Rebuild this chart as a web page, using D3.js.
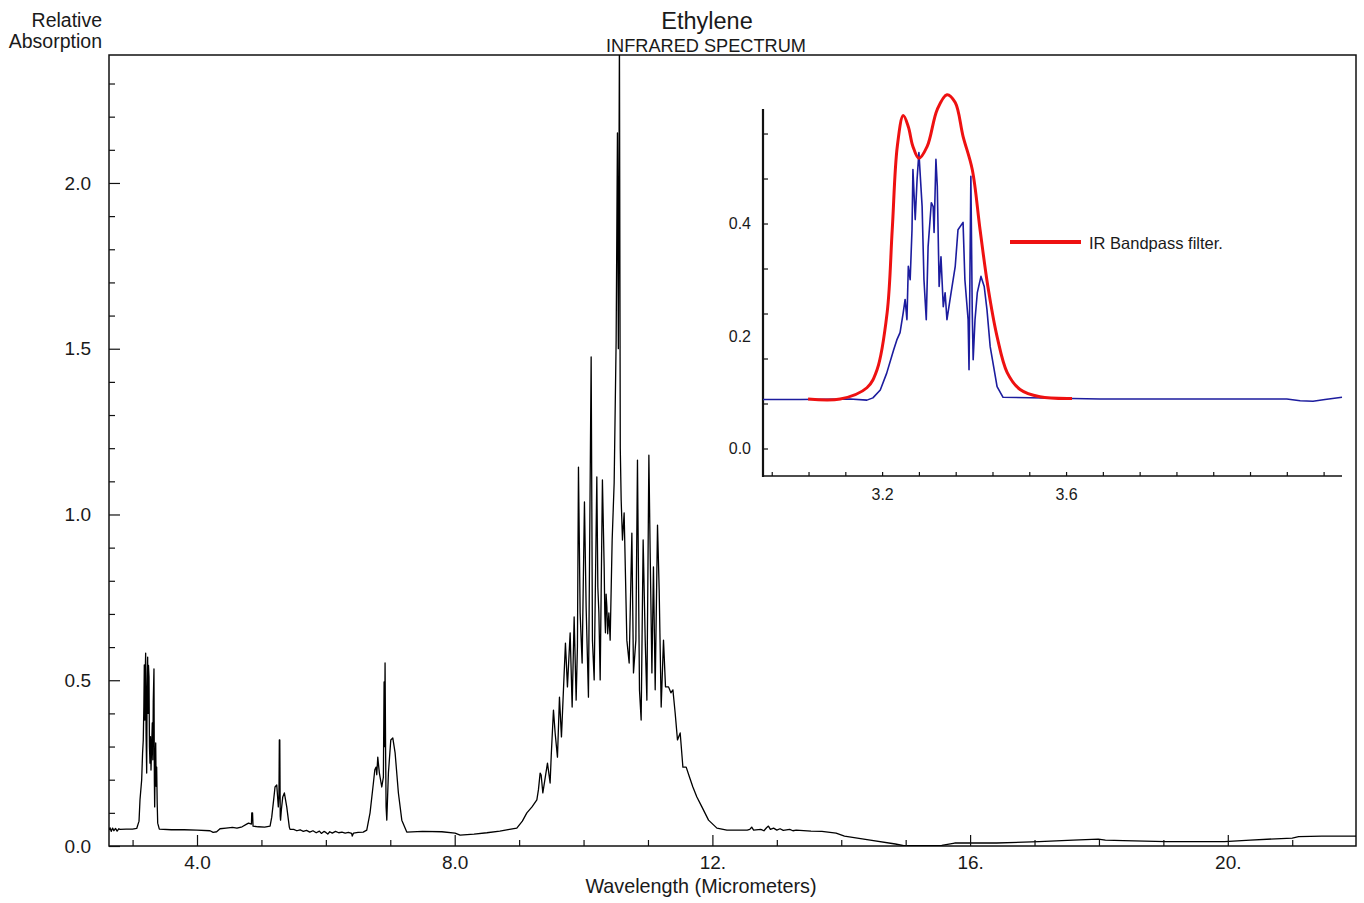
<!DOCTYPE html>
<html><head><meta charset="utf-8">
<script src="https://cdn.jsdelivr.net/npm/d3@7"></script>
<style>
body{margin:0;background:#fff}
text{font-family:"Liberation Sans",Arial,sans-serif;fill:#1a1a1a}
</style>
</head><body>
<svg id="c" width="1364" height="903"></svg>
<script>
// ---------- DATA ----------
// Main ethylene IR spectrum: [wavelength µm, relative absorption]
const spectrum = [
[2.634,0.048],[2.65,0.055],[2.668,0.044],[2.69,0.054],[2.71,0.046],[2.735,0.053],[2.76,0.045],[2.785,0.052],[2.804,0.050],[2.9,0.051],[3.0,0.051],[3.064,0.053],
[3.10,0.075],[3.115,0.139],[3.141,0.199],[3.155,0.280],[3.166,0.320],[3.175,0.420],[3.182,0.546],[3.190,0.380],[3.196,0.520],[3.203,0.582],[3.210,0.330],[3.219,0.220],[3.226,0.480],[3.234,0.570],[3.240,0.400],[3.247,0.545],[3.255,0.510],[3.262,0.300],[3.270,0.250],[3.278,0.330],[3.286,0.229],[3.296,0.300],[3.306,0.371],[3.314,0.260],[3.321,0.434],[3.332,0.534],[3.338,0.200],[3.343,0.118],[3.350,0.250],[3.359,0.311],[3.366,0.180],[3.374,0.238],[3.382,0.130],[3.390,0.069],[3.415,0.051],
[3.6,0.049],[3.8,0.049],[4.0,0.048],[4.202,0.046],[4.25,0.041],[4.305,0.043],[4.357,0.052],[4.45,0.054],[4.55,0.056],[4.62,0.054],[4.70,0.058],[4.771,0.066],[4.80,0.069],[4.845,0.066],[4.850,0.100],[4.862,0.100],[4.870,0.060],[4.95,0.058],[5.05,0.057],[5.134,0.060],
[5.160,0.087],[5.190,0.140],[5.211,0.178],[5.238,0.184],[5.262,0.118],[5.272,0.150],[5.278,0.320],[5.285,0.320],[5.292,0.090],[5.297,0.078],[5.31,0.110],[5.331,0.148],[5.356,0.160],[5.393,0.118],[5.433,0.057],[5.444,0.050],
[5.50,0.050],[5.55,0.046],[5.60,0.049],[5.65,0.044],[5.70,0.047],[5.75,0.042],[5.80,0.046],[5.85,0.040],[5.90,0.045],[5.93,0.038],[5.97,0.044],[6.00,0.041],[6.03,0.036],[6.06,0.043],[6.10,0.039],[6.15,0.044],[6.20,0.040],[6.25,0.042],[6.30,0.039],[6.35,0.041],[6.40,0.038],[6.41,0.030],[6.43,0.039],[6.50,0.041],[6.58,0.042],
[6.635,0.048],[6.686,0.100],[6.738,0.190],[6.760,0.230],[6.780,0.238],[6.790,0.215],[6.806,0.268],[6.820,0.240],[6.831,0.220],[6.868,0.178],[6.893,0.208],[6.904,0.495],[6.912,0.300],[6.919,0.552],[6.927,0.300],[6.935,0.118],[6.946,0.078],[6.971,0.220],[7.008,0.320],[7.039,0.326],[7.075,0.281],[7.126,0.160],[7.179,0.078],[7.256,0.042],[7.5,0.044],[7.8,0.043],[8.006,0.039],
[8.084,0.033],[8.3,0.036],[8.5,0.040],[8.7,0.045],[8.85,0.050],[8.964,0.054],[9.05,0.075],[9.12,0.100],[9.2,0.118],[9.275,0.139],[9.300,0.170],[9.326,0.220],[9.342,0.214],[9.368,0.160],[9.40,0.200],[9.440,0.250],[9.481,0.190],[9.500,0.280],[9.533,0.410],[9.559,0.341],[9.595,0.268],[9.626,0.449],[9.657,0.329],[9.690,0.480],[9.719,0.612],[9.750,0.480],[9.792,0.643],[9.823,0.419],[9.854,0.691],[9.885,0.440],[9.905,0.600],[9.921,1.143],[9.947,0.703],[9.978,0.552],[10.014,1.038],[10.040,0.721],[10.076,0.449],[10.118,1.475],[10.138,0.621],[10.165,0.501],[10.206,1.113],[10.222,0.780],[10.238,0.703],[10.258,0.501],[10.293,1.104],[10.320,0.842],[10.330,0.700],[10.340,0.643],[10.350,0.760],[10.362,0.721],[10.375,0.640],[10.393,0.703],[10.413,0.621],[10.444,0.923],[10.475,1.095],[10.506,1.526],[10.526,2.151],[10.540,1.500],[10.557,2.450],[10.570,1.200],[10.584,1.044],[10.604,0.923],[10.630,1.005],[10.672,0.621],[10.708,0.552],[10.750,0.944],[10.775,0.522],[10.812,0.621],[10.837,1.164],[10.868,0.471],[10.894,0.380],[10.925,0.923],[10.957,0.621],[10.983,0.440],[11.014,1.179],[11.034,0.884],[11.061,0.522],[11.085,0.842],[11.112,0.471],[11.148,0.968],[11.174,0.772],[11.205,0.419],[11.241,0.621],[11.272,0.480],[11.319,0.480],[11.356,0.462],[11.387,0.471],[11.422,0.401],[11.458,0.320],[11.500,0.341],[11.542,0.238],[11.593,0.238],[11.644,0.208],[11.697,0.178],[11.759,0.148],[11.837,0.118],[11.940,0.078],[12.070,0.054],[12.225,0.048],
[12.54,0.048],[12.58,0.050],[12.61,0.057],[12.64,0.048],[12.75,0.050],[12.80,0.046],[12.84,0.055],[12.87,0.060],[12.90,0.050],[12.95,0.054],[13.0,0.048],[13.05,0.052],[13.1,0.047],[13.2,0.050],[13.25,0.046],[13.3,0.048],[13.53,0.045],[13.7,0.044],[13.92,0.039],[14.05,0.030],[14.45,0.018],[14.84,0.006],[14.97,0.001],[15.56,0.002],[15.76,0.009],[16.41,0.009],[17.07,0.013],[17.6,0.018],[17.99,0.021],[18.1,0.018],[18.38,0.016],[19.04,0.013],[19.95,0.013],[20.35,0.018],[21.0,0.024],[21.1,0.028],[21.46,0.030],[21.99,0.030]
];

// Inset: measured C-H band (blue)
const insetBand = [
[2.941,0.087],[3.022,0.087],[3.130,0.088],[3.167,0.086],[3.180,0.090],[3.196,0.104],[3.210,0.134],[3.225,0.175],[3.232,0.193],[3.239,0.206],[3.246,0.242],[3.250,0.265],[3.254,0.229],[3.257,0.324],[3.261,0.300],[3.265,0.389],[3.267,0.496],[3.272,0.407],[3.276,0.478],[3.280,0.526],[3.287,0.430],[3.291,0.300],[3.296,0.229],[3.300,0.359],[3.307,0.437],[3.311,0.430],[3.313,0.384],[3.317,0.514],[3.320,0.466],[3.324,0.288],[3.328,0.341],[3.333,0.252],[3.337,0.277],[3.341,0.229],[3.350,0.277],[3.359,0.324],[3.365,0.389],[3.376,0.402],[3.380,0.300],[3.387,0.229],[3.389,0.140],[3.393,0.484],[3.396,0.242],[3.398,0.158],[3.402,0.229],[3.407,0.277],[3.415,0.306],[3.422,0.288],[3.428,0.247],[3.435,0.181],[3.450,0.110],[3.463,0.091],[3.674,0.088],[3.891,0.088],[4.080,0.088],[4.109,0.085],[4.137,0.084],[4.163,0.087],[4.200,0.091]
];

// Inset: IR bandpass filter curve (red)
const bandpassFilter = [
[3.039,0.088],[3.109,0.088],[3.167,0.108],[3.189,0.140],[3.211,0.242],[3.222,0.389],[3.233,0.537],[3.246,0.592],[3.257,0.572],[3.267,0.537],[3.280,0.516],[3.298,0.537],[3.320,0.603],[3.341,0.629],[3.359,0.615],[3.376,0.555],[3.396,0.496],[3.413,0.389],[3.430,0.288],[3.450,0.199],[3.472,0.135],[3.500,0.105],[3.543,0.092],[3.613,0.089]
];

// Tick values / labels
const xMajorTicks = [4, 8, 12, 16, 20];
const xMajorLabels = ["4.0", "8.0", "12.", "16.", "20."];
const xMinorTicks = [3,5,6,7,9,10,11,13,14,15,17,18,19,21];
const yMajorTicks = [0, 0.5, 1.0, 1.5, 2.0];
const yMajorLabels = ["0.0", "0.5", "1.0", "1.5", "2.0"];
const yMinorTicks = [0.1,0.2,0.3,0.4,0.6,0.7,0.8,0.9,1.1,1.2,1.3,1.4,1.6,1.7,1.8,1.9,2.1,2.2,2.3];
const insetXTicks = [2.96,3.04,3.12,3.2,3.28,3.36,3.44,3.52,3.6,3.68,3.76,3.84,3.92,4.0,4.08,4.16];
const insetXLabelTicks = [3.2, 3.6];
const insetXLabels = ["3.2", "3.6"];
const insetYTicks = [0,0.08,0.16,0.24,0.32,0.4,0.48,0.56];
const insetYLabelTicks = [0, 0.2, 0.4];
const insetYLabels = ["0.0", "0.2", "0.4"];
const legendLabel = "IR Bandpass filter.";

// ---------- CHART ----------
const svg = d3.select("#c");
const L = 109, R = 1356, T = 55, B = 846;
const x = d3.scaleLinear().domain([2.634, 21.99]).range([L, R]);
const y = d3.scaleLinear().domain([0, 2.386]).range([B, T]);

svg.append("clipPath").attr("id","clip").append("rect")
  .attr("x", L).attr("y", T).attr("width", R-L).attr("height", B-T);

// frame
svg.append("rect").attr("x", L).attr("y", T).attr("width", R-L).attr("height", B-T)
  .attr("fill","none").attr("stroke","#111").attr("stroke-width",1.5);

// spectrum
svg.append("path").datum(spectrum)
  .attr("clip-path","url(#clip)")
  .attr("fill","none").attr("stroke","#000").attr("stroke-width",1.3)
  .attr("stroke-linejoin","round")
  .attr("d", d3.line().x(d=>x(d[0])).y(d=>y(d[1])));

function styleAxis(g){
  g.select(".domain").remove();
  g.selectAll(".tick line").attr("stroke","#111").attr("stroke-width",1.2);
  g.selectAll(".tick text").style("font-family",'"Liberation Sans",Arial,sans-serif').attr("fill","#1a1a1a");
}

// x axis
svg.append("g").attr("transform",`translate(0,${B})`)
  .call(d3.axisBottom(x).tickValues(xMinorTicks).tickSize(-6).tickFormat(""))
  .call(styleAxis);
svg.append("g").attr("transform",`translate(0,${B})`)
  .call(d3.axisBottom(x).tickValues(xMajorTicks).tickSize(-11).tickPadding(10)
        .tickFormat((d,i)=>xMajorLabels[i]))
  .call(styleAxis)
  .selectAll("text").attr("font-size",19);

// y axis
svg.append("g").attr("transform",`translate(${L},0)`)
  .call(d3.axisLeft(y).tickValues(yMinorTicks).tickSize(-6).tickFormat(""))
  .call(styleAxis);
svg.append("g").attr("transform",`translate(${L},0)`)
  .call(d3.axisLeft(y).tickValues(yMajorTicks).tickSize(-11).tickPadding(18)
        .tickFormat((d,i)=>yMajorLabels[i]))
  .call(styleAxis)
  .selectAll("text").attr("font-size",19);

// titles
svg.append("text").attr("x",707).attr("y",29).attr("text-anchor","middle")
  .attr("font-size",23.5).text("Ethylene");
svg.append("text").attr("x",706).attr("y",51.5).attr("text-anchor","middle")
  .attr("font-size",18.2).text("INFRARED SPECTRUM");
svg.append("text").attr("x",102).attr("y",26.5).attr("text-anchor","end")
  .attr("font-size",19.5).text("Relative");
svg.append("text").attr("x",102).attr("y",48).attr("text-anchor","end")
  .attr("font-size",19.5).text("Absorption");
svg.append("text").attr("x",701).attr("y",893).attr("text-anchor","middle")
  .attr("font-size",19.8).text("Wavelength (Micrometers)");

// ---------- INSET ----------
const IL = 763, IR = 1342, IT = 109, IB = 476;
const xi = d3.scaleLinear().domain([2.941, 4.2]).range([IL, IR]);
const yi = d3.scaleLinear().domain([-0.0489, 0.6036]).range([IB, IT]);

// inset x axis
svg.append("g").attr("transform",`translate(0,${IB})`)
  .call(d3.axisBottom(xi).tickValues(insetXTicks).tickSize(-4).tickFormat(""))
  .call(styleAxis);
const gix2 = svg.append("g").attr("transform",`translate(0,${IB})`);
gix2.call(d3.axisBottom(xi).tickValues(insetXLabelTicks).tickSize(0).tickPadding(13)
        .tickFormat((d,i)=>insetXLabels[i]))
  .call(styleAxis);
gix2.selectAll("text").attr("font-size",16);
svg.append("line").attr("x1",IL).attr("x2",IR).attr("y1",IB).attr("y2",IB)
  .attr("stroke","#111").attr("stroke-width",1.5);

// inset y axis
svg.append("g").attr("transform",`translate(${IL},0)`)
  .call(d3.axisLeft(yi).tickValues(insetYTicks).tickSize(-5).tickFormat(""))
  .call(styleAxis);
const giy2 = svg.append("g").attr("transform",`translate(${IL},0)`);
giy2.call(d3.axisLeft(yi).tickValues(insetYLabelTicks).tickSize(0).tickPadding(12)
        .tickFormat((d,i)=>insetYLabels[i]))
  .call(styleAxis);
giy2.selectAll("text").attr("font-size",16);
svg.append("line").attr("x1",IL).attr("x2",IL).attr("y1",IT).attr("y2",IB+1)
  .attr("stroke","#111").attr("stroke-width",2.2);

// blue measured band
svg.append("path").datum(insetBand)
  .attr("fill","none").attr("stroke","#1c1c9e").attr("stroke-width",1.6)
  .attr("stroke-linejoin","round")
  .attr("d", d3.line().x(d=>xi(d[0])).y(d=>yi(d[1])));

// red filter
svg.append("path").datum(bandpassFilter)
  .attr("fill","none").attr("stroke","#ee1111").attr("stroke-width",3)
  .attr("d", d3.line().curve(d3.curveCatmullRom.alpha(0.5)).x(d=>xi(d[0])).y(d=>yi(d[1])));

// legend
svg.append("line").attr("x1",1010).attr("x2",1081).attr("y1",242).attr("y2",242)
  .attr("stroke","#ee1111").attr("stroke-width",4);
svg.append("text").attr("x",1089).attr("y",248.5).attr("font-size",16.5).text(legendLabel);
</script>
</body></html>
